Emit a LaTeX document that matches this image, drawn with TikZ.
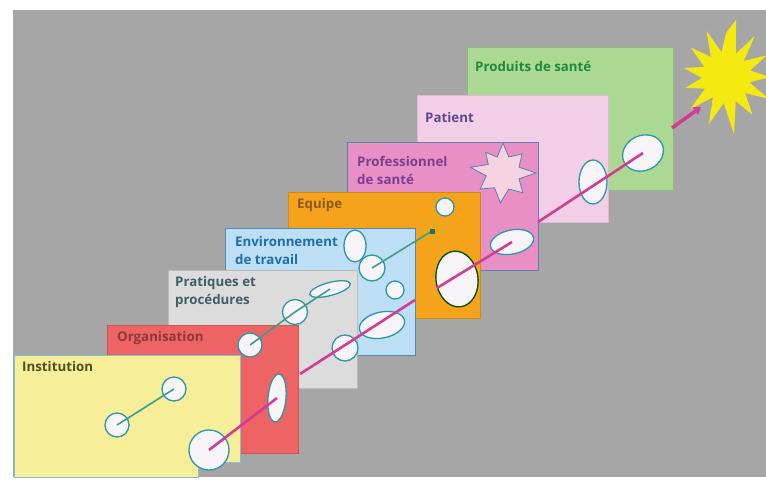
\documentclass[tikz,border=0pt]{standalone}
\usepackage{fontspec}
\setmainfont{Open Sans}
\usetikzlibrary{shapes.geometric,arrows.meta}
\definecolor{bg}{HTML}{A6A6A6}
\definecolor{pinst}{HTML}{F6EE98}
\definecolor{porg}{HTML}{EE6464}
\definecolor{pprat}{HTML}{DCDCDC}
\definecolor{penv}{HTML}{BDDFF5}
\definecolor{pequ}{HTML}{F5A31A}
\definecolor{pprof}{HTML}{E890C6}
\definecolor{ppat}{HTML}{F2CFE7}
\definecolor{pprod}{HTML}{ABD994}
\definecolor{tinst}{HTML}{4B5320}
\definecolor{torg}{HTML}{8B3A3A}
\definecolor{tprat}{HTML}{3F5F66}
\definecolor{tenv}{HTML}{1F6FA8}
\definecolor{tequ}{HTML}{8A5A1A}
\definecolor{tprof}{HTML}{7B3F8F}
\definecolor{tpat}{HTML}{5B4A8F}
\definecolor{tprod}{HTML}{1E8A3E}
\definecolor{holefill}{HTML}{F6F4F7}
\definecolor{holeline}{HTML}{2B98A8}
\definecolor{trajc}{HTML}{D23C96}
\definecolor{tealc}{HTML}{3D9D8A}
\definecolor{sunc}{HTML}{F5EA10}
\definecolor{starfill}{HTML}{F6D3E0}
\definecolor{starline}{HTML}{5A7FB0}
\begin{document}
\begin{tikzpicture}[x=1pt,y=-1pt,
  hole/.style={ellipse, draw=holeline, fill=holefill, line width=1.3pt, inner sep=0pt},
  panel/.style={line width=0.6pt},
  lbl/.style={anchor=west, font=\bfseries\fontsize{13.3}{18}\selectfont, align=left, inner sep=0pt},
  traj/.style={draw=trajc, line width=2.6pt},
  tealpath/.style={draw=tealc, line width=1.6pt}]
\useasboundingbox (0,0) rectangle (766,480);
\fill[white] (0,0) rectangle (766,480);
\fill[bg] (13,10) rectangle (766,477);

% sun
\begin{scope}[shift={(726,77)}]
\fill[sunc] (-80:58) -- (-67:25) -- (-55:50) -- (-42:24) -- (-28:46) -- (-15:25) -- (0:44) -- (13:24) -- (27:48) -- (40:25) -- (55:46) -- (68:26) -- (82:58) -- (95:26) -- (110:50) -- (123:24) -- (138:48) -- (151:24) -- (165:42) -- (178:24) -- (192:43) -- (205:24) -- (220:46) -- (233:25) -- (247:50) -- (260:25) -- (270:44) -- cycle;
\end{scope}

% Produits de sante
\filldraw[panel, fill=pprod, draw=pprod!85!black] (467,47) rectangle (673,190);
\node[lbl, text=tprod] (tprodu) at (475,66) {Produits de santé};
\node[hole, minimum width=42, minimum height=35, rotate=25] (h8) at (643,153) {};

% Patient
\filldraw[panel, fill=ppat, draw=ppat!90!black] (417,95) rectangle (608,222);
\node[lbl, text=tpat] (tpatient) at (425,118) {Patient};
\node[hole, minimum width=28, minimum height=44] (h7) at (593,182) {};

% Professionnel de sante
\filldraw[panel, fill=pprof, draw=starline] (347,142) rectangle (538,270);
\node[lbl, text=tprof] (tprofe) at (357,170) {Professionnel\\de santé};
\begin{scope}[shift={(503,173)}]
\filldraw[fill=starfill, draw=starline, line width=0.8pt] (-90:30) -- (-70:17) -- (-45:27) -- (-20:17) -- (0:33) -- (20:17) -- (45:28) -- (70:17) -- (95:30) -- (120:17) -- (145:28) -- (170:17) -- (190:33) -- (210:17) -- (230:27) -- (250:17) -- cycle;
\end{scope}
\node[hole, minimum width=44, minimum height=24, rotate=12] (h6) at (512,242) {};

% Equipe
\filldraw[panel, fill=pequ, draw=pequ!85!black] (288,192) rectangle (480,318);
\node[lbl, text=tequ] (tequipe) at (297,205) {Equipe};
\node[hole, minimum size=18] (q1) at (445,207) {};
\node[hole, draw=black!70!green, minimum width=42, minimum height=56, rotate=8] (q2) at (457,279) {};

% Environnement de travail
\filldraw[panel, fill=penv, draw=tenv!80] (225,228) rectangle (415,355);
\node[lbl, text=tenv] (tenvi) at (235,250.5) {Environnement\\de travail};
\node[hole, minimum width=22, minimum height=32] (e1) at (355,246) {};
\node[hole, minimum size=26] (e2) at (372,268) {};
\node[hole, minimum size=18] (e3) at (395,290) {};
\node[hole, minimum width=46, minimum height=26, rotate=12] (e4) at (382,325) {};

% Pratiques et procedures
\filldraw[panel, fill=pprat, draw=pprat!85!black] (168,270) rectangle (357,388);
\node[lbl, text=tprat] (tprati) at (175,292) {Pratiques et\\procédures};
\node[hole, minimum size=25] (p1) at (295,312) {};
\node[hole, minimum width=42, minimum height=13, rotate=15] (p2) at (330,289) {};
\node[hole, minimum size=26] (p3) at (345,348) {};

% Organisation
\filldraw[panel, fill=porg, draw=porg!85!black] (107,325) rectangle (298,453);
\node[lbl, text=torg] (torga) at (117,338) {Organisation};
\node[hole, minimum size=24] (o1) at (250,345) {};
\node[hole, minimum width=18, minimum height=48, rotate=-5] (o2) at (277,398) {};

% Institution
\filldraw[panel, fill=pinst, draw=holeline!60] (14,355) -- (240,355) -- (240,462) -- (198,462) -- (198,477) -- (14,477) -- cycle;
\node[lbl, text=tinst] (tinsti) at (22,367) {Institution};
\node[hole, minimum size=24] (i1) at (117,425) {};
\node[hole, minimum size=24] (i2) at (174,389) {};
\node[hole, minimum size=40] (i3) at (209,450) {};

% teal trajectory (stopped)
\coordinate (burst) at (432,231);
\draw[tealpath] (i1.center) -- (i2.center);
\draw[tealpath] (o1.center) -- (p1.center) -- (p2.center);
\draw[tealpath] (e2.center) -- (burst);
\fill[tealc!70!black] (burst) ++(-2.5,-2.5) rectangle ++(5,5);
\foreach \a in {0,45,...,315}{
  \draw[yellow!60!green, line width=0.7pt, dash pattern=on 2pt off 2pt] (burst) ++(\a:5) -- ++(\a:9);
}

% magenta trajectory (accident)
\coordinate (m2a) at (300,374);
\coordinate (m2b) at (415,300);
\coordinate (m3a) at (437,288);
\coordinate (m4a) at (538,222);
\coordinate (arra) at (672,128);
\coordinate (arrb) at (701,107);
\draw[traj] (i3.center) -- (o2.center);
\draw[traj] (m2a) -- (m2b);
\draw[traj] (m3a) -- (h6.center);
\draw[traj] (m4a) -- (h8.center);
\draw[trajc, line width=3.5pt, -{Triangle[length=7pt,width=9pt]}] (arra) -- (arrb);
\end{tikzpicture}
\end{document}
